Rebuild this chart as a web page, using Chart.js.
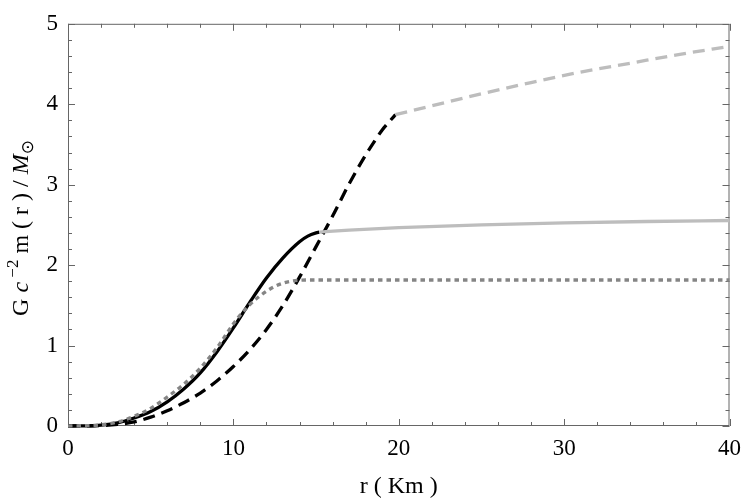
<!DOCTYPE html>
<html>
<head>
<meta charset="utf-8">
<script src="https://cdn.jsdelivr.net/npm/chart.js@4"></script>
<style>
  html, body { margin: 0; padding: 0; background: #fff; }
</style>
</head>
<body>
<canvas id="massChart" width="750" height="500"></canvas>
<script>
// mass profile m(r), interior part (black) and exterior part (gray)
const rSolidIn = [0, 1, 2, 3, 4, 5, 6, 7, 8, 9, 10, 11, 12, 13, 14, 14.5, 15, 15.2];
const mSolidIn = [0, 0.002, 0.012, 0.04, 0.1, 0.18, 0.3, 0.46, 0.66, 0.92, 1.22, 1.54, 1.84, 2.09, 2.29, 2.36, 2.4, 2.41];
const rSolidOut = [15.2, 17, 20, 25, 30, 35, 40];
const mSolidOut = [2.41, 2.435, 2.465, 2.5, 2.525, 2.542, 2.555];

const rDashIn = [0, 2, 3, 4, 5, 6, 7, 8, 9, 10, 11, 12, 13, 14, 15, 16, 17, 18, 18.5, 19, 19.5, 19.8];
const mDashIn = [0, 0.005, 0.02, 0.05, 0.11, 0.19, 0.29, 0.41, 0.56, 0.74, 0.95, 1.2, 1.5, 1.85, 2.23, 2.61, 3.01, 3.37, 3.53, 3.68, 3.8, 3.87];
const rDashOut = [19.8, 22, 25, 28, 31, 34, 37, 40];
const mDashOut = [3.87, 3.98, 4.13, 4.27, 4.4, 4.51, 4.62, 4.72];

const rDot = [0, 2, 3, 4, 5, 6, 7, 8, 9, 10, 10.5, 11, 11.5, 12, 12.5, 13, 13.5, 14, 14.5, 20, 30, 40];
const mDot = [0, 0.015, 0.05, 0.12, 0.22, 0.36, 0.52, 0.72, 0.97, 1.27, 1.4, 1.51, 1.6, 1.675, 1.735, 1.775, 1.8, 1.812, 1.815, 1.815, 1.815, 1.815];

const xTicks = [0, 10, 20, 30, 40];
const yTicks = [0, 1, 2, 3, 4, 5];

const FONT = "'Liberation Serif', 'Times New Roman', serif";

function pts(rs, ms) {
  return rs.map((r, i) => ({ x: r, y: ms[i] }));
}

function line(rs, ms, color, dash) {
  return {
    data: pts(rs, ms),
    borderColor: color,
    borderWidth: 3.3,
    borderDash: dash,
    borderCapStyle: "butt",
    pointRadius: 0,
    fill: false,
    cubicInterpolationMode: "monotone",
    clip: 6,
  };
}

// frame with inward ticks on all four sides
const frameTicks = {
  id: "frameTicks",
  beforeDatasetsDraw(chart) {
    const { ctx, chartArea: a, scales } = chart;
    const x = scales.x;
    const y = scales.y;
    ctx.save();
    ctx.strokeStyle = "#666";
    ctx.lineWidth = 1;
    ctx.strokeRect(a.left + 0.5, a.top + 0.5, a.right - a.left - 1, a.bottom - a.top - 1);
    ctx.beginPath();
    for (let v = 0; v <= 40; v += 2) {
      const len = v % 10 === 0 ? 7 : 4;
      const px = Math.round(x.getPixelForValue(v)) + 0.5;
      ctx.moveTo(px, a.bottom);
      ctx.lineTo(px, a.bottom - len);
      ctx.moveTo(px, a.top);
      ctx.lineTo(px, a.top + len);
    }
    for (let k = 0; k <= 25; k++) {
      const v = k * 0.2;
      const len = k % 5 === 0 ? 7 : 4;
      const py = Math.round(y.getPixelForValue(v)) + 0.5;
      ctx.moveTo(a.left, py);
      ctx.lineTo(a.left + len, py);
      ctx.moveTo(a.right, py);
      ctx.lineTo(a.right - len, py);
    }
    ctx.stroke();
    ctx.restore();
  },
  afterDraw(chart) {
    const { ctx, chartArea: a } = chart;
    ctx.save();
    ctx.fillStyle = "#000";
    ctx.textBaseline = "alphabetic";
    // x title
    ctx.font = "24px " + FONT;
    ctx.textAlign = "center";
    ctx.fillText("r ( Km )", (a.left + a.right) / 2, 493);
    // y title, rotated, mixed styles
    const parts = [
      { t: "G ", f: "24px " + FONT, dy: 0 },
      { t: "c", f: "italic 24px " + FONT, dy: 0 },
      { t: " \u22122", f: "17px " + FONT, dy: -10 },
      { t: " m ( r ) / ", f: "24px " + FONT, dy: 0 },
      { t: "M", f: "italic 24px " + FONT, dy: 0 },
      { t: "\u2299", f: "17px 'DejaVu Sans', sans-serif", dy: 5 },
    ];
    let total = 0;
    parts.forEach((p) => {
      ctx.font = p.f;
      p.w = ctx.measureText(p.t).width;
      total += p.w;
    });
    ctx.translate(28, 228);
    ctx.rotate(-Math.PI / 2);
    ctx.textAlign = "left";
    let cx = -total / 2;
    parts.forEach((p) => {
      ctx.font = p.f;
      ctx.fillText(p.t, cx, p.dy);
      cx += p.w;
    });
    ctx.restore();
  },
};

const ctx = document.getElementById("massChart").getContext("2d");
new Chart(ctx, {
  type: "line",
  data: {
    datasets: [
      line(rSolidOut, mSolidOut, "#bdbdbd", []),
      line(rDashOut, mDashOut, "#bdbdbd", [12, 7]),
      line(rDot, mDot, "#858585", [4.5, 4]),
      line(rDashIn, mDashIn, "#000", [12, 7]),
      line(rSolidIn, mSolidIn, "#000", []),
    ],
  },
  options: {
    responsive: false,
    animation: false,
    layout: { padding: { top: 14, right: 14, left: 0, bottom: 0 } },
    plugins: {
      legend: { display: false },
      tooltip: { enabled: false },
    },
    scales: {
      x: {
        type: "linear",
        min: 0,
        max: 40,
        afterBuildTicks: (s) => { s.ticks = xTicks.map((v) => ({ value: v })); },
        afterFit: (s) => { s.height = 74; },
        grid: { display: false, drawTicks: false },
        border: { display: false },
        ticks: { color: "#000", padding: 9, maxRotation: 0, font: { family: FONT, size: 23 } },
      },
      y: {
        type: "linear",
        min: 0,
        max: 5,
        afterBuildTicks: (s) => { s.ticks = yTicks.map((v) => ({ value: v })); },
        afterFit: (s) => { s.width = 68; },
        grid: { display: false, drawTicks: false },
        border: { display: false },
        ticks: { color: "#000", padding: 10, font: { family: FONT, size: 23 } },
      },
    },
  },
  plugins: [frameTicks],
});
</script>
</body>
</html>
